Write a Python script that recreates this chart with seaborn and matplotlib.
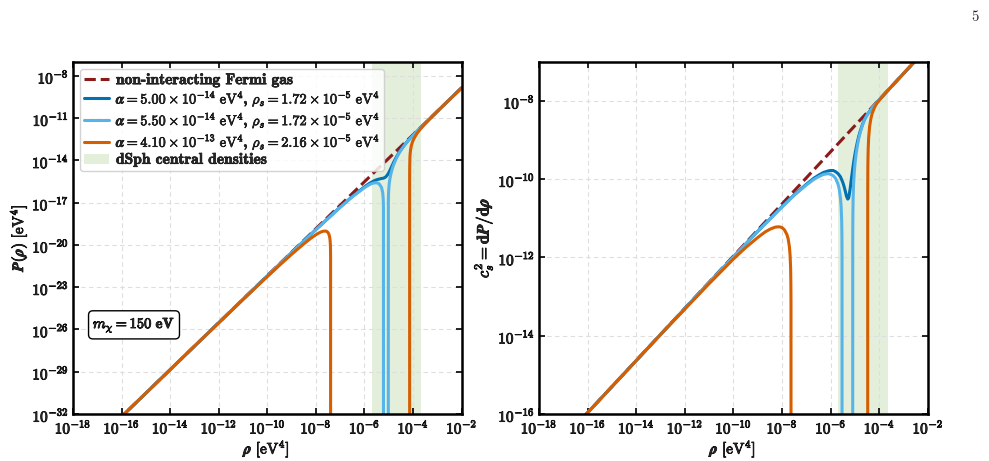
import numpy as np
import matplotlib
matplotlib.use("Agg")
import matplotlib.pyplot as plt
import matplotlib.patheffects as pe
import seaborn as sns
from matplotlib.lines import Line2D
from matplotlib.patches import Patch
from matplotlib.ticker import FixedLocator, FuncFormatter, NullLocator

# ------------------------------------------------------------------
# Data (log10 values)
# ------------------------------------------------------------------
# non-interacting Fermi gas
fg_P_logrho = [-16.2, -2.0]
fg_P_logval = [-32.52, -8.85]
fg_c_logrho = [-16.2, -2.0]
fg_c_logval = [-16.10, -6.63]

# alpha = 5.00e-14, rho_s = 1.72e-5   (dark blue)
db_P_logrho = [[-16, -13, -11, -9, -8, -7, -6.5, -6.0, -5.8, -5.7, -5.6, -5.5, -5.4, -5.3,
                -5.25, -5.2, -5.15, -5.1, -5.05, -5.0, -4.95, -4.9, -4.85, -4.8, -4.7, -4.6,
                -4.5, -4.35, -4.2, -4.0, -3.7, -3.3, -2.0]]
db_P_logval = [[-32.19, -27.19, -23.86, -20.55, -18.91, -17.32, -16.56, -15.88, -15.64, -15.54,
                -15.45, -15.38, -15.33, -15.29, -15.28, -15.25, -15.21, -15.13, -15.02, -14.87,
                -14.70, -14.51, -14.33, -14.14, -13.81, -13.51, -13.25, -12.90, -12.59, -12.22,
                -11.70, -11.02, -8.854]]
db_c_logrho = [[-16.2, -13, -11, -9, -8, -7.5, -7, -6.7, -6.5, -6.3, -6.2, -6.1, -6.0, -5.9,
                -5.8, -5.7, -5.6, -5.5, -5.45, -5.4, -5.35, -5.3, -5.27, -5.25, -5.2, -5.15,
                -5.1, -5.05, -5.0, -4.95, -4.9, -4.85, -4.8, -4.7, -4.6, -4.5, -4.3, -4.0, -2.0]]
db_c_logval = [[-16.10, -13.97, -12.64, -11.33, -10.70, -10.40, -10.13, -9.98, -9.90, -9.83,
                -9.81, -9.79, -9.78, -9.78, -9.81, -9.86, -9.94, -10.09, -10.19, -10.31, -10.44,
                -10.51, -10.49, -10.44, -10.24, -9.99, -9.76, -9.54, -9.35, -9.19, -9.04, -8.91,
                -8.80, -8.61, -8.46, -8.35, -8.18, -7.97, -6.632]]

# alpha = 5.50e-14, rho_s = 1.72e-5   (light blue)
lb_P_logrho = [[-16, -13, -11, -9, -8, -7, -6.5, -6.0, -5.8, -5.7, -5.6, -5.5, -5.4, -5.3,
                -5.25, -5.23, -5.225, -5.22, -5.218],
               [-5.0204, -5.018, -5.015, -5.01, -5.0, -4.98, -4.95, -4.9, -4.85, -4.8, -4.7,
                -4.6, -4.5, -4.35, -4.2, -4.0, -3.7, -3.3, -2.0]]
lb_P_logval = [[-32.19, -27.19, -23.86, -20.55, -18.92, -17.33, -16.59, -15.94, -15.73, -15.65,
                -15.60, -15.59, -15.66, -15.92, -16.30, -16.71, -16.93, -17.40, -40],
               [-40, -17.00, -16.64, -16.33, -16.00, -15.62, -15.27, -14.87, -14.56, -14.31,
                -13.90, -13.56, -13.28, -12.92, -12.60, -12.23, -11.70, -11.02, -8.854]]
lb_c_logrho = [[-16.2, -13, -11, -9, -8, -7.5, -7, -6.7, -6.5, -6.3, -6.2, -6.1, -6.0, -5.9,
                -5.8, -5.7, -5.65, -5.6, -5.57, -5.55, -5.54, -5.535, -5.534],
               [-5.097, -5.095, -5.09, -5.08, -5.06, -5.03, -5.0, -4.95, -4.9, -4.85, -4.8,
                -4.7, -4.6, -4.5, -4.3, -4.0, -2.0]]
lb_c_logval = [[-16.10, -13.97, -12.64, -11.33, -10.71, -10.41, -10.15, -10.01, -9.94, -9.88,
                -9.87, -9.86, -9.88, -9.91, -9.98, -10.13, -10.26, -10.48, -10.72, -11.06,
                -11.43, -12.03, -20],
               [-20, -11.55, -10.92, -10.50, -10.12, -9.81, -9.59, -9.33, -9.13, -8.97, -8.84,
                -8.63, -8.47, -8.36, -8.18, -7.97, -6.632]]

# alpha = 4.10e-13, rho_s = 2.16e-5   (orange)
or_P_logrho = [[-16, -13, -11, -10, -9.5, -9, -8.5, -8.2, -8.0, -7.9, -7.8, -7.7, -7.6, -7.55,
                -7.5, -7.46, -7.43, -7.415, -7.405, -7.4, -7.397, -7.396, -7.395],
               [-4.142, -4.1415, -4.14, -4.13, -4.12, -4.10, -4.07, -4.03, -4.0, -3.95, -3.85,
                -3.7, -3.5, -3.2, -2.8, -2.0]]
or_P_logval = [[-32.19, -27.19, -23.88, -22.25, -21.45, -20.67, -19.93, -19.52, -19.28, -19.18,
                -19.09, -19.03, -19.02, -19.05, -19.13, -19.27, -19.48, -19.70, -19.98, -20.27,
                -20.66, -20.96, -40],
               [-40, -15.20, -14.58, -13.80, -13.52, -13.22, -12.95, -12.72, -12.59, -12.41,
                -12.12, -11.78, -11.40, -10.87, -10.19, -8.854]]
or_c_logrho = [[-16.2, -13, -11, -10, -9.5, -9, -8.7, -8.5, -8.3, -8.2, -8.1, -8.0, -7.9, -7.8,
                -7.75, -7.7, -7.67, -7.65, -7.64, -7.635, -7.633],
               [-4.4797, -4.4794, -4.478, -4.475, -4.47, -4.46, -4.44, -4.4, -4.35, -4.3, -4.2,
                -4.1, -3.9, -3.6, -2.0]]
or_c_logval = [[-16.10, -13.97, -12.67, -12.04, -11.75, -11.49, -11.35, -11.28, -11.23, -11.22,
                -11.22, -11.24, -11.30, -11.42, -11.53, -11.73, -11.96, -12.28, -12.64, -13.12, -20],
               [-20, -11.12, -10.31, -9.86, -9.55, -9.24, -8.94, -8.65, -8.46, -8.33, -8.17,
                -8.06, -7.91, -7.70, -6.63]]

# dSph central density band
dsph_band = [2.0e-6, 2.2e-4]

series_labels = [
    "non-interacting Fermi gas",
    r"$\boldsymbol{\alpha} = \mathbf{5.00} \times \mathbf{10^{-14}}\ \mathrm{eV}^4$, "
    r"$\boldsymbol{\rho_s} = \mathbf{1.72} \times \mathbf{10^{-5}}\ \mathrm{eV}^4$",
    r"$\boldsymbol{\alpha} = \mathbf{5.50} \times \mathbf{10^{-14}}\ \mathrm{eV}^4$, "
    r"$\boldsymbol{\rho_s} = \mathbf{1.72} \times \mathbf{10^{-5}}\ \mathrm{eV}^4$",
    r"$\boldsymbol{\alpha} = \mathbf{4.10} \times \mathbf{10^{-13}}\ \mathrm{eV}^4$, "
    r"$\boldsymbol{\rho_s} = \mathbf{2.16} \times \mathbf{10^{-5}}\ \mathrm{eV}^4$",
    "dSph central densities",
]

x_tick_exp = [-18, -16, -14, -12, -10, -8, -6, -4, -2]
yP_tick_exp = [-32, -29, -26, -23, -20, -17, -14, -11, -8]
yc_tick_exp = [-16, -14, -12, -10, -8]

# ------------------------------------------------------------------
sns.set_style("ticks")
plt.rcParams["mathtext.fontset"] = "cm"
plt.rcParams["font.family"] = ["cmb10", "DejaVu Serif"]
plt.rcParams["axes.unicode_minus"] = False

C_FG = "#8B1A1A"
C_DB = "#0072B2"
C_LB = "#56B4E9"
C_OR = "#D55E00"
C_BAND = "#E3EEDB"
LW = 2.2
BOLD = [pe.withStroke(linewidth=0.6, foreground="black")]

fig = plt.figure(figsize=(9.89, 4.61), dpi=100)
axL = fig.add_axes([0.0738, 0.1020, 0.3930, 0.7642])
axR = fig.add_axes([0.5450, 0.1020, 0.3933, 0.7642])


def draw(ax, xs, ys, color, ls="-", z=2):
    sns.lineplot(x=10.0 ** np.asarray(xs, float), y=10.0 ** np.asarray(ys, float), ax=ax,
                 color=color, linestyle=ls, linewidth=LW, sort=False, estimator=None,
                 legend=False, zorder=z)


fmt = FuncFormatter(lambda v, p: r"$\mathbf{10^{%d}}$" % int(round(np.log10(v))))

panels = [
    (axL, fg_P_logrho, fg_P_logval, db_P_logrho, db_P_logval, lb_P_logrho, lb_P_logval,
     or_P_logrho, or_P_logval, yP_tick_exp, (1e-32, 1e-7)),
    (axR, fg_c_logrho, fg_c_logval, db_c_logrho, db_c_logval, lb_c_logrho, lb_c_logval,
     or_c_logrho, or_c_logval, yc_tick_exp, (1e-16, 1e-7)),
]

for (ax, fx, fy, dbx, dby, lbx, lby, orx, ory, yt, ylim) in panels:
    ax.axvspan(dsph_band[0], dsph_band[1], color=C_BAND, zorder=0.3, lw=0)
    draw(ax, fx, fy, C_FG, ls="--", z=2.0)
    for bx, by in zip(dbx, dby):
        draw(ax, bx, by, C_DB, z=2.1)
    for bx, by in zip(lbx, lby):
        draw(ax, bx, by, C_LB, z=2.2)
    for bx, by in zip(orx, ory):
        draw(ax, bx, by, C_OR, z=2.3)
    ax.set_xscale("log")
    ax.set_yscale("log")
    ax.set_xlim(1e-18, 1e-2)
    ax.set_ylim(*ylim)
    ax.xaxis.set_major_locator(FixedLocator([10.0 ** e for e in x_tick_exp]))
    ax.yaxis.set_major_locator(FixedLocator([10.0 ** e for e in yt]))
    ax.xaxis.set_minor_locator(NullLocator())
    ax.yaxis.set_minor_locator(NullLocator())
    ax.xaxis.set_major_formatter(fmt)
    ax.yaxis.set_major_formatter(fmt)
    ax.set_axisbelow(True)
    ax.grid(True, which="major", linestyle=(0, (4, 3)), color="0.87", linewidth=0.8)
    ax.tick_params(which="major", direction="in", top=True, right=True, length=4,
                   width=1.2, labelsize=11, pad=3, color="black")
    for sp in ax.spines.values():
        sp.set_linewidth(1.8)
        sp.set_color("black")
        sp.set_visible(True)
    ax.set_xlabel(r"$\boldsymbol{\rho}\ [\mathrm{eV}^4]$", fontsize=11, labelpad=1)

axL.set_ylabel(r"$\boldsymbol{P(\rho)}\ [\mathrm{eV}^4]$", fontsize=11, labelpad=2)
axR.set_ylabel(r"$\boldsymbol{c_s^2} = \mathbf{d}\boldsymbol{P}/\mathbf{d}\boldsymbol{\rho}$",
               fontsize=12, labelpad=2)

handles = [
    Line2D([], [], color=C_FG, lw=LW, ls="--"),
    Line2D([], [], color=C_DB, lw=LW),
    Line2D([], [], color=C_LB, lw=LW),
    Line2D([], [], color=C_OR, lw=LW),
    Patch(facecolor=C_BAND, edgecolor="none"),
]
leg = axL.legend(handles, series_labels, loc="upper left", prop={"family": "cmb10", "size": 10.3},
                 handlelength=1.75, handletextpad=0.45, borderaxespad=0.5, labelspacing=0.05,
                 borderpad=0.3, fancybox=True, framealpha=0.85, edgecolor="0.8")
leg.set_zorder(5)
for i, t in enumerate(leg.get_texts()):
    if i in (0, 4):
        t.set_fontsize(11.2)
    t.set_path_effects([pe.withStroke(linewidth=0.45, foreground="black")])

ann = axL.text(0.157, 0.253, r"$\boldsymbol{m_\chi} = \mathbf{150\ eV}$", transform=axL.transAxes,
               ha="center", va="center", fontsize=10.5, zorder=6,
               bbox=dict(boxstyle="round,pad=0.3", fc="white", ec="black", lw=1.0))
ann.set_path_effects(BOLD)

fig.text(0.990, 0.962, "5", ha="right", va="center", fontsize=10.5, family="cmr10")

fig.canvas.draw()
for ax in (axL, axR):
    for lab in ax.get_xticklabels() + ax.get_yticklabels():
        lab.set_path_effects(BOLD)
    ax.xaxis.label.set_path_effects(BOLD)
    ax.yaxis.label.set_path_effects(BOLD)

fig.savefig("out.png", dpi=100)
